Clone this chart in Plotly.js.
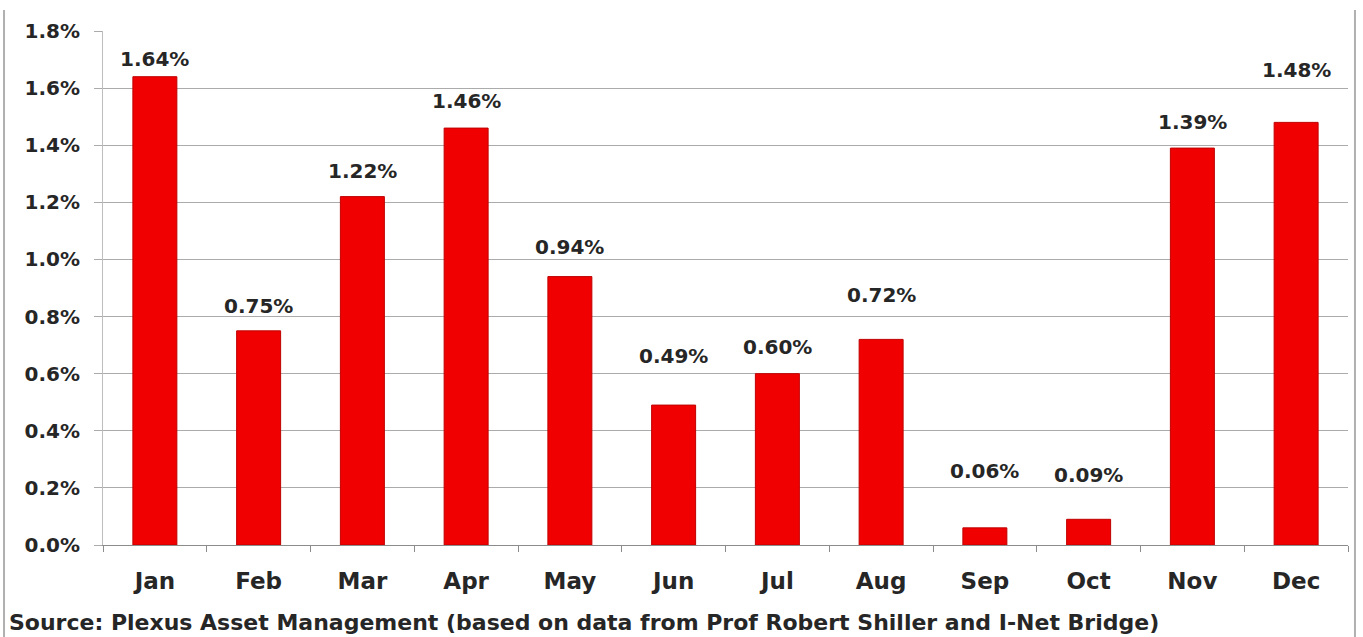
<!DOCTYPE html>
<html>
<head>
<meta charset="utf-8">
<script src="https://cdn.plot.ly/plotly-3.0.1.min.js"></script>
<style>html,body{margin:0;padding:0;background:#fff;}#chart{width:1363px;height:637px;}</style>
</head>
<body>
<div id="chart"></div>
<script>
// Data
const months = ["Jan","Feb","Mar","Apr","May","Jun","Jul","Aug","Sep","Oct","Nov","Dec"];
const returnsPct = [1.64, 0.75, 1.22, 1.46, 0.94, 0.49, 0.60, 0.72, 0.06, 0.09, 1.39, 1.48];
const valueLabels = ["1.64%","0.75%","1.22%","1.46%","0.94%","0.49%","0.60%","0.72%","0.06%","0.09%","1.39%","1.48%"];
const sourceNote = "Source: Plexus Asset Management (based on data from Prof Robert Shiller and I-Net Bridge)";

// Label lift above bar top (pixels), as placed in the reference
const labelLift = [18, 25, 26, 27, 30, 49, 27, 44, 57, 44, 26, 52];

const FONT = "DejaVu Sans, Verdana, sans-serif";
const TXT = "#262626";

const trace = {
  type: "bar",
  x: months,
  y: returnsPct,
  marker: {color: "#f00000", line: {color: "#c00000", width: 1}},
  hoverinfo: "x+y"
};

const annotations = months.map((m, i) => ({
  x: m, y: returnsPct[i], xref: "x", yref: "y",
  text: valueLabels[i], showarrow: false,
  yanchor: "middle", yshift: labelLift[i],
  font: {family: FONT, size: 20, color: TXT, weight: "bold"}
}));

annotations.push({
  xref: "paper", yref: "paper", x: -0.077, y: -0.151,
  xanchor: "left", yanchor: "middle", showarrow: false,
  text: sourceNote,
  font: {family: FONT, size: 22, color: TXT, weight: "bold"}
});

const layout = {
  width: 1363, height: 637,
  margin: {l: 103, r: 15, t: 31, b: 92},
  paper_bgcolor: "#ffffff", plot_bgcolor: "#ffffff",
  showlegend: false,
  bargap: 0.576,
  xaxis: {
    type: "category",
    showgrid: false,
    showline: true, linecolor: "#8c8c8c", linewidth: 1,
    ticks: "outside", tickson: "boundaries", ticklen: 6, tickcolor: "#8c8c8c",
    ticklabelstandoff: 15,
    tickfont: {family: FONT, size: 23, color: TXT, weight: "bold"},
    fixedrange: true
  },
  yaxis: {
    range: [0, 1.8], dtick: 0.2, tick0: 0,
    tickformat: ".1f", ticksuffix: "%",
    showgrid: true, gridcolor: "#ababab", gridwidth: 1,
    zeroline: false,
    showline: true, linecolor: "#bdbdbd", linewidth: 1,
    ticks: "outside", ticklen: 8, tickcolor: "#ababab",
    ticklabelstandoff: 10,
    tickfont: {family: FONT, size: 20, color: TXT, weight: "bold"},
    fixedrange: true
  },
  annotations: annotations,
  shapes: [
    {type: "line", xref: "paper", yref: "paper", x0: -0.0795, x1: -0.0795, y0: 1.041, y1: -0.2, line: {color: "#b0b0b0", width: 2}},
    {type: "line", xref: "paper", yref: "paper", x0: 1.0056, x1: 1.0056, y0: 1.041, y1: -0.2, line: {color: "#b0b0b0", width: 2}}
  ]
};

Plotly.newPlot("chart", [trace], layout, {displayModeBar: false, staticPlot: true});
</script>
</body>
</html>
